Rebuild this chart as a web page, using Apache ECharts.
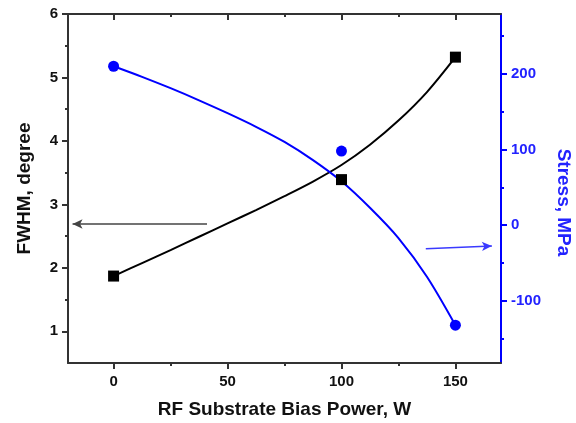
<!DOCTYPE html>
<html>
<head>
<meta charset="utf-8">
<script src="https://cdn.jsdelivr.net/npm/echarts@6/dist/echarts.min.js"></script>
<style>
  html, body { margin: 0; padding: 0; background: #fff; }
  #chart { width: 576px; height: 423px; }
</style>
</head>
<body>
<div id="chart"></div>
<script>
// measured points
var powerPts = [0, 100, 150];
var fwhmPts = [1.87, 3.39, 5.32];
var stressPts = [210, 98, -132];

// fitted curves
var fitPower = [0, 12.5, 25, 37.5, 50, 62.5, 75, 87.5, 100, 112.5, 125, 137.5, 150];
var fwhmFit = [1.87, 2.075, 2.28, 2.49, 2.70, 2.91, 3.13, 3.36, 3.62, 3.94, 4.32, 4.77, 5.32];
var stressFit = [210, 196, 181, 165, 148, 130, 110, 86, 58, 23, -17, -68, -132];

// axis ticks
var xMajor = [0, 50, 100, 150];
var xMinor = [25, 75, 125];
var fwhmMajor = [1, 2, 3, 4, 5, 6];
var fwhmMinor = [1.5, 2.5, 3.5, 4.5, 5.5];
var stressMajor = [-100, 0, 100, 200];
var stressMinor = [-150, -50, 50, 150, 250];

// arrows pointing at the axes
var fwhmArrow = [[41, 2.69], [-18, 2.69]];
var stressArrow = [[137, -31], [166, -27.5]];

var DARK = "#333";
var BLUE = "#0000ff";
var BLUE_TXT = "#2222ff";
var FONT = "Liberation Sans, Arial, sans-serif";

function pairs(xs, ys) {
  return xs.map(function (x, i) { return [x, ys[i]]; });
}

function tickAxis(extra) {
  // bare axis showing only ticks, stacked on a main one
  var base = {
    axisLine: { show: false, onZero: false },
    axisLabel: { show: false },
    splitLine: { show: false },
  };
  return Object.assign(base, extra);
}

var chart = echarts.init(document.getElementById("chart"));

var option = {
  animation: false,
  grid: { left: 68, right: 75, top: 14, bottom: 60, containLabel: false, outerBoundsMode: "none" },
  xAxis: [
    {
      type: "value", position: "bottom", min: -20, max: 170,
      axisLine: { show: true, onZero: false, lineStyle: { color: DARK, width: 2 } },
      axisTick: { show: true, customValues: xMajor, length: 6, lineStyle: { color: DARK, width: 2 } },
      axisLabel: { customValues: xMajor, margin: 11, color: "#111", fontSize: 15, fontWeight: "bold", fontFamily: FONT },
      splitLine: { show: false },
      name: "RF Substrate Bias Power, W",
      nameLocation: "middle",
      nameGap: 37,
      nameTextStyle: { color: "#111", fontSize: 19, fontWeight: "bold", fontFamily: FONT },
    },
    tickAxis({
      type: "value", position: "bottom", min: -20, max: 170,
      axisTick: { show: true, customValues: xMinor, length: 3, lineStyle: { color: DARK, width: 2 } },
    }),
    {
      type: "value", position: "top", min: -20, max: 170,
      axisLine: { show: true, onZero: false, lineStyle: { color: DARK, width: 2 } },
      axisTick: { show: true, inside: true, customValues: xMajor, length: 6, lineStyle: { color: DARK, width: 2 } },
      axisLabel: { show: false },
      splitLine: { show: false },
    },
    tickAxis({
      type: "value", position: "top", min: -20, max: 170,
      axisTick: { show: true, inside: true, customValues: xMinor, length: 3, lineStyle: { color: DARK, width: 2 } },
    }),
  ],
  yAxis: [
    {
      type: "value", position: "left", min: 0.5, max: 6,
      axisLine: { show: true, onZero: false, lineStyle: { color: DARK, width: 2 } },
      axisTick: { show: true, customValues: fwhmMajor, length: 6, lineStyle: { color: DARK, width: 2 } },
      axisLabel: { customValues: fwhmMajor, margin: 10, color: "#111", fontSize: 15, fontWeight: "bold", fontFamily: FONT },
      splitLine: { show: false },
      name: "FWHM, degree",
      nameLocation: "middle",
      nameGap: 34,
      nameTextStyle: { color: "#111", fontSize: 19, fontWeight: "bold", fontFamily: FONT },
    },
    tickAxis({
      type: "value", position: "left", min: 0.5, max: 6,
      axisTick: { show: true, customValues: fwhmMinor, length: 3, lineStyle: { color: DARK, width: 2 } },
    }),
    {
      type: "value", position: "right", min: -182, max: 279,
      axisLine: { show: true, onZero: false, lineStyle: { color: BLUE, width: 2 } },
      axisTick: { show: true, customValues: stressMajor, length: 6, lineStyle: { color: BLUE, width: 2 } },
      axisLabel: { customValues: stressMajor, margin: 10, color: BLUE_TXT, fontSize: 15, fontWeight: "bold", fontFamily: FONT },
      splitLine: { show: false },
      name: "Stress, MPa",
      nameLocation: "middle",
      nameRotate: -90,
      nameGap: 53,
      nameTextStyle: { color: BLUE_TXT, fontSize: 19, fontWeight: "bold", fontFamily: FONT, padding: [0, 0, 0, 28] },
    },
    tickAxis({
      type: "value", position: "right", min: -182, max: 279,
      axisTick: { show: true, customValues: stressMinor, length: 3, lineStyle: { color: BLUE, width: 2 } },
    }),
  ],
  series: [
    {
      name: "FWHM fit", type: "line", xAxisIndex: 0, yAxisIndex: 0,
      data: pairs(fitPower, fwhmFit),
      smooth: 0.3, showSymbol: false, symbol: "none",
      lineStyle: { color: "#000", width: 2 },
      markLine: {
        silent: true, symbol: ["none", "arrow"], symbolSize: [7, 10],
        label: { show: false },
        lineStyle: { color: "#444", width: 1.5, type: "solid" },
        data: [[{ coord: fwhmArrow[0] }, { coord: fwhmArrow[1] }]],
      },
      z: 3,
    },
    {
      name: "FWHM", type: "scatter", xAxisIndex: 0, yAxisIndex: 0,
      data: pairs(powerPts, fwhmPts),
      symbol: "rect", symbolSize: 11,
      itemStyle: { color: "#000", opacity: 1 },
      z: 5,
    },
    {
      name: "Stress fit", type: "line", xAxisIndex: 0, yAxisIndex: 2,
      data: pairs(fitPower, stressFit),
      smooth: 0.3, showSymbol: false, symbol: "none",
      lineStyle: { color: BLUE, width: 2 },
      markLine: {
        silent: true, symbol: ["none", "arrow"], symbolSize: [7, 10],
        label: { show: false },
        lineStyle: { color: "#3a3aff", width: 1.5, type: "solid" },
        data: [[{ coord: stressArrow[0] }, { coord: stressArrow[1] }]],
      },
      z: 3,
    },
    {
      name: "Stress", type: "scatter", xAxisIndex: 0, yAxisIndex: 2,
      data: pairs(powerPts, stressPts),
      symbol: "circle", symbolSize: 11,
      itemStyle: { color: BLUE, opacity: 1 },
      z: 5,
    },
  ],
};

chart.setOption(option);
</script>
</body>
</html>
